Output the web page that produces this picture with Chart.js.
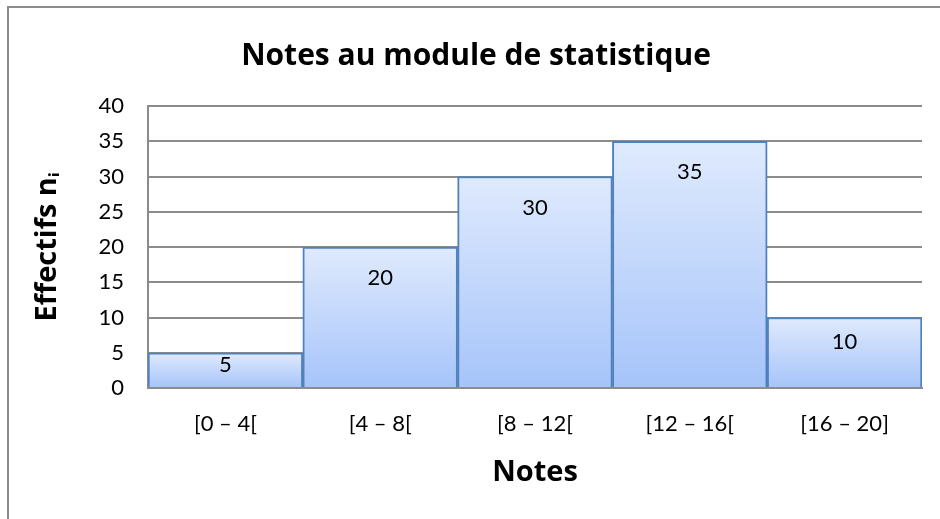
<!DOCTYPE html>
<html>
<head>
<meta charset="utf-8">
<script src="https://cdn.jsdelivr.net/npm/chart.js@4"></script>
<style>
  html, body { margin: 0; padding: 0; background: #fff; overflow: hidden; }
  #frame { position: absolute; left: 7px; top: 6px; width: 1000px; height: 600px; border: 2px solid #8c8c8c; }
  #wrap { position: absolute; left: 0; top: 0; width: 940px; height: 519px; }
</style>
</head>
<body>
<div id="frame"></div>
<div id="wrap"><canvas id="c" width="940" height="519"></canvas></div>
<script>
const categories = ['[0 \u2013 4[', '[4 \u2013 8[', '[8 \u2013 12[', '[12 \u2013 16[', '[16 \u2013 20]'];
const effectifs = [5, 20, 30, 35, 10];
const yTicks = [0, 5, 10, 15, 20, 25, 30, 35, 40];
const titleText = 'Notes au module de statistique';
const xTitle = 'Notes';
const yTitle = 'Effectifs n\u1D62';

const FONT = 'Lato, "Open Sans", sans-serif';
const BOLD_FONT = '"Open Sans", Lato, sans-serif';

const labelPlugin = {
  id: 'barLabels',
  afterDatasetsDraw(chart) {
    const ctx = chart.ctx;
    const meta = chart.getDatasetMeta(0);
    ctx.save();
    ctx.fillStyle = '#000';
    ctx.font = '22px ' + FONT;
    ctx.textAlign = 'center';
    ctx.textBaseline = 'middle';
    meta.data.forEach((bar, i) => {
      const h = bar.base - bar.y;
      const off = Math.min(31, h * 0.35);
      ctx.fillText(String(effectifs[i]), bar.x, bar.y + off);
    });
    ctx.restore();
  }
};

new Chart(document.getElementById('c'), {
  type: 'bar',
  data: {
    labels: categories,
    datasets: [{
      data: effectifs,
      backgroundColor: (context) => {
        const chart = context.chart;
        const ys = chart.scales.y;
        if (!ys || context.raw === undefined) return '#c3d6fb';
        const top = ys.getPixelForValue(context.raw);
        const bot = ys.getPixelForValue(0);
        if (!isFinite(top) || !isFinite(bot) || top === bot) return '#c3d6fb';
        const g = chart.ctx.createLinearGradient(0, top, 0, bot);
        g.addColorStop(0, '#dfeafd');
        g.addColorStop(1, '#a6c4fa');
        return g;
      },
      borderColor: '#4f81bd',
      borderWidth: 2,
      barPercentage: 1,
      categoryPercentage: 1
    }]
  },
  options: {
    responsive: false,
    animation: false,
    devicePixelRatio: 1,
    layout: { padding: { left: 30, right: 18, top: 0, bottom: 0 } },
    plugins: {
      legend: { display: false },
      tooltip: { enabled: false },
      title: {
        display: true,
        text: titleText,
        color: '#000',
        font: { family: BOLD_FONT, size: 30, weight: 'bold' },
        padding: { top: 38, bottom: 32 }
      }
    },
    scales: {
      x: {
        grid: { display: false },
        border: { display: true, color: '#8c8c8c', width: 2 },
        ticks: { color: '#000', font: { family: FONT, size: 22 }, padding: 15 },
        title: {
          display: true, text: xTitle, color: '#000',
          font: { family: BOLD_FONT, size: 29, weight: 'bold' },
          padding: { top: 0, bottom: 29 }
        },
        afterFit(scale) { scale.height = 131; }
      },
      y: {
        min: 0, max: 40,
        grid: { color: '#8c8c8c', lineWidth: 2, drawTicks: false },
        border: { display: true, color: '#8c8c8c', width: 2 },
        ticks: { color: '#000', font: { family: FONT, size: 22 }, padding: 24, stepSize: 5 },
        title: {
          display: true, text: yTitle, color: '#000',
          font: { family: BOLD_FONT, size: 29, weight: 'bold' },
          padding: { top: 0, bottom: 0 }
        },
        afterFit(scale) { scale.width = 118; }
      }
    }
  },
  plugins: [labelPlugin]
});
</script>
</body>
</html>
